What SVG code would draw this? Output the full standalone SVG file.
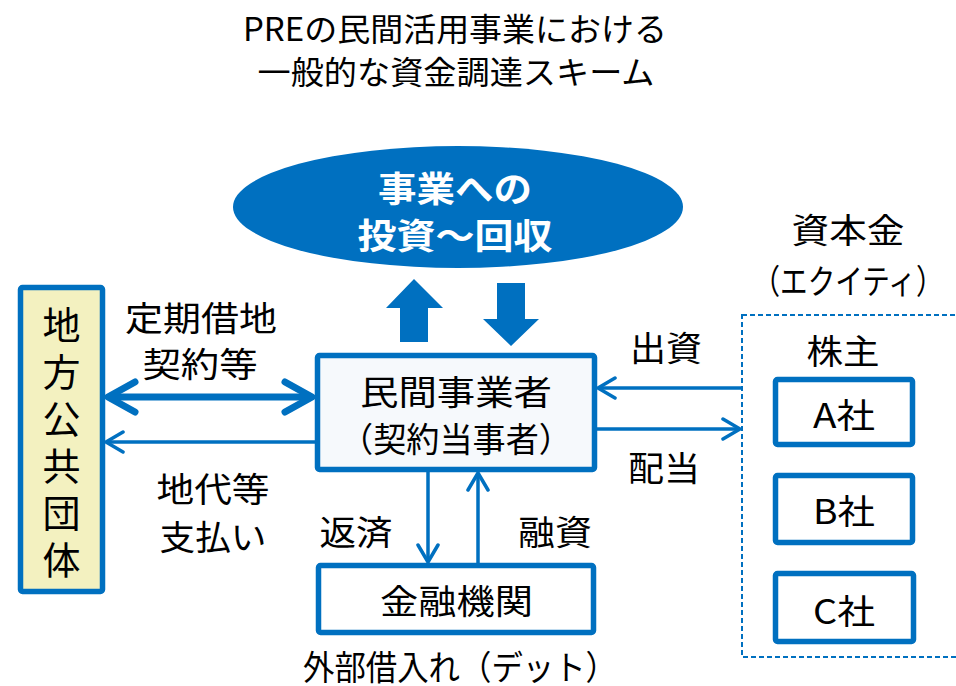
<svg xmlns="http://www.w3.org/2000/svg" width="956" height="686" viewBox="0 0 956 686">
<defs>
<style>
text{font-family:"Noto Sans CJK JP","Noto Sans",sans-serif;fill:#000;text-anchor:middle}
.t{font-size:32px}
.l{font-size:34px}
.w{fill:#fff;font-weight:bold;font-size:35px}
.box{fill:#fff;stroke:#0070C0;stroke-width:5.5}
.line{fill:none;stroke:#0070C0;stroke-width:3.5}
.thick{fill:none;stroke:#0070C0;stroke-width:7}
.blk{fill:#0070C0}
</style>
<marker id="ah" markerUnits="userSpaceOnUse" viewBox="-20 -12 24 24" refX="0" refY="0" markerWidth="24" markerHeight="24" orient="auto-start-reverse">
<path d="M-17,-10 L0,0 L-17,10" fill="none" stroke="#0070C0" stroke-width="3.5" stroke-linecap="round" stroke-linejoin="round"/>
</marker>
<marker id="ahb" markerUnits="userSpaceOnUse" viewBox="-34 -20 40 40" refX="0" refY="0" markerWidth="40" markerHeight="40" orient="auto-start-reverse">
<path d="M-27,-15 L0,0 L-27,15" fill="none" stroke="#0070C0" stroke-width="7" stroke-linecap="round" stroke-linejoin="round"/>
</marker>
</defs>
<rect width="956" height="686" fill="#fff"/>
<g id="title">
<text class="t" x="455" y="41" textLength="424" lengthAdjust="spacingAndGlyphs">PREの民間活用事業における</text>
<text class="t" x="456" y="84" textLength="397" lengthAdjust="spacingAndGlyphs">一般的な資金調達スキーム</text>
</g>
<g id="connectors">
<polygon class="blk" points="414,279 443,308 428,308 428,342 400,342 400,308 386,308"/>
<polygon class="blk" points="497,283 525,283 525,319 539,319 511,346 483,319 497,319"/>
<line class="thick" x1="108" y1="397" x2="312" y2="397" marker-start="url(#ahb)" marker-end="url(#ahb)"/>
<line class="line" x1="315" y1="442" x2="106" y2="442" marker-end="url(#ah)"/>
<line class="line" x1="741" y1="388" x2="598" y2="388" marker-end="url(#ah)"/>
<line class="line" x1="597" y1="429" x2="740" y2="429" marker-end="url(#ah)"/>
<line class="line" x1="428" y1="472" x2="428" y2="562" marker-end="url(#ah)"/>
<line class="line" x1="478" y1="563" x2="478" y2="473" marker-end="url(#ah)"/>
</g>
<g id="labels">
<text class="l" x="201" y="331" textLength="152" lengthAdjust="spacingAndGlyphs">定期借地</text>
<text class="l" x="200" y="377" textLength="115" lengthAdjust="spacingAndGlyphs">契約等</text>
<text class="l" x="213" y="502" textLength="113" lengthAdjust="spacingAndGlyphs">地代等</text>
<text class="l" x="213" y="550" textLength="107" lengthAdjust="spacingAndGlyphs">支払い</text>
<text class="l" x="666" y="361" textLength="72" lengthAdjust="spacingAndGlyphs">出資</text>
<text class="l" x="664" y="481" textLength="72" lengthAdjust="spacingAndGlyphs">配当</text>
<text class="l" x="356" y="545" textLength="73" lengthAdjust="spacingAndGlyphs">返済</text>
<text class="l" x="555" y="545" textLength="74" lengthAdjust="spacingAndGlyphs">融資</text>
<text class="l" x="460" y="680" textLength="314" lengthAdjust="spacingAndGlyphs">外部借入れ（デット）</text>
<text class="l" x="848" y="243" textLength="113" lengthAdjust="spacingAndGlyphs">資本金</text>
<text class="l" x="848" y="294" textLength="191" lengthAdjust="spacingAndGlyphs">（エクイティ）</text>
</g>
<g id="invest">
<ellipse cx="458" cy="207" rx="225" ry="61" fill="#0070C0"/>
<text class="w" x="455" y="202" textLength="154" lengthAdjust="spacingAndGlyphs">事業への</text>
<text class="w" x="455" y="249" textLength="195" lengthAdjust="spacingAndGlyphs">投資～回収</text>
</g>
<g id="local-gov">
<rect x="20.5" y="287.5" width="82" height="304" rx="2" fill="#F3F1C0" stroke="#0070C0" stroke-width="5.5"/>
<text font-size="38" x="61.5" y="306" style="writing-mode:vertical-rl;text-anchor:start" letter-spacing="9">地方公共団体</text>
</g>
<g id="operator">
<rect class="box" x="317.5" y="355.5" width="277" height="114" rx="2" style="fill:#F6F9FC"/>
<text class="l" x="456" y="405" textLength="192" lengthAdjust="spacingAndGlyphs">民間事業者</text>
<text class="l" x="456" y="452" textLength="232" lengthAdjust="spacingAndGlyphs">（契約当事者）</text>
</g>
<g id="bank">
<rect class="box" x="318.5" y="565.5" width="275" height="67" rx="2"/>
<text class="l" x="456.5" y="614" textLength="153" lengthAdjust="spacingAndGlyphs">金融機関</text>
</g>
<g id="shareholders">
<rect x="742" y="315" width="240" height="342" fill="none" stroke="#0070C0" stroke-width="2" stroke-dasharray="5,3"/>
<text class="l" x="843" y="364" textLength="73" lengthAdjust="spacingAndGlyphs">株主</text>
</g>
<g id="a-sha">
<rect class="box" x="775.5" y="379.5" width="137" height="65" rx="2"/>
<text class="l" x="844" y="428" textLength="62" lengthAdjust="spacingAndGlyphs">A社</text>
</g>
<g id="b-sha">
<rect class="box" x="775.5" y="475.5" width="137" height="67" rx="2"/>
<text class="l" x="844" y="524" textLength="62" lengthAdjust="spacingAndGlyphs">B社</text>
</g>
<g id="c-sha">
<rect class="box" x="775.5" y="573.5" width="138" height="68" rx="2"/>
<text class="l" x="844" y="624" textLength="62" lengthAdjust="spacingAndGlyphs">C社</text>
</g>
</svg>
